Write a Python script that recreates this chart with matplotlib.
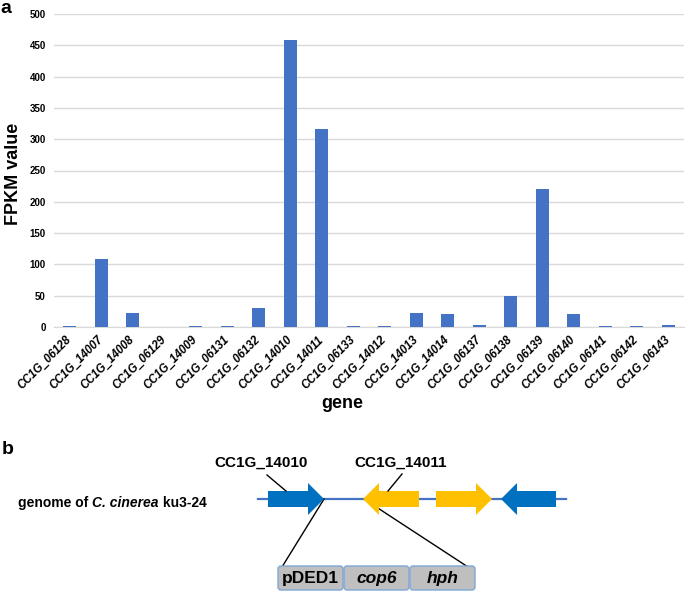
import matplotlib.pyplot as plt
from matplotlib.patches import Polygon, FancyBboxPatch

# data
genes = ['CC1G_06128', 'CC1G_14007', 'CC1G_14008', 'CC1G_06129', 'CC1G_14009',
         'CC1G_06131', 'CC1G_06132', 'CC1G_14010', 'CC1G_14011', 'CC1G_06133',
         'CC1G_14012', 'CC1G_14013', 'CC1G_14014', 'CC1G_06137', 'CC1G_06138',
         'CC1G_06139', 'CC1G_06140', 'CC1G_06141', 'CC1G_06142', 'CC1G_06143']
fpkm = [2, 108, 23, 0, 2, 2, 30, 458, 316, 2, 2, 23, 21, 3.5, 50, 221, 21, 2, 2, 3.5]
yticks = list(range(0, 501, 50))

# panel b: gene arrows (start, end, colour) along the genome line
gene_arrows = [(268, 324, '#0070C0'), (419, 363, '#FFC000'),
               (436, 492, '#FFC000'), (556, 501, '#0070C0')]
cassette = ['pDED1', 'cop6', 'hph']
cassette_italic = [False, True, True]

W, H = 685, 592
fig = plt.figure(figsize=(W / 100, H / 100), dpi=100)
plt.rcParams['font.family'] = ['Liberation Sans', 'DejaVu Sans']

# ---- panel a ----
ax = fig.add_axes([54 / W, 1 - 327 / H, 630 / W, 313 / H])
x_pos = list(range(len(genes)))
ax.bar(x_pos, fpkm, width=0.42, color='#4472C4', zorder=3)
ax.set_xlim(-0.5, len(genes) - 0.5)
ax.set_ylim(0, 500)
ax.set_yticks(yticks)
ax.set_yticklabels([str(v) for v in yticks], fontsize=7, fontweight='bold')
ax.set_xticks(x_pos)
ax.set_xticklabels(genes, rotation=45, ha='right', va='center', rotation_mode='anchor',
                   fontsize=8.3, fontweight='bold', fontstyle='italic')
ax.tick_params(length=0, pad=6)
ax.tick_params(axis='x', pad=8)
ax.grid(axis='y', color='#D9D9D9', linewidth=1, zorder=0)
for s in ['top', 'right', 'left']:
    ax.spines[s].set_visible(False)
ax.spines['bottom'].set_color('#D9D9D9')

fig.text(14 / W, 1 - 174 / H, 'FPKM value', rotation=90, ha='center', va='center',
         fontsize=13, fontweight='bold')
fig.text(342 / W, 1 - 404 / H, 'gene', ha='center', va='center',
         fontsize=13, fontweight='bold')

# ---- panel b (drawn in pixel coordinates) ----
bx = fig.add_axes([0, 0, 1, 1], facecolor='none')
bx.set_xlim(0, W)
bx.set_ylim(H, 0)
bx.axis('off')

bx.text(0, 0, 'a', fontsize=14, fontweight='bold', va='top')
bx.text(2, 449, 'b', fontsize=14, fontweight='bold', va='center')

gy = 499
bx.plot([258, 566], [gy, gy], color='#4472C4', linewidth=1.6, zorder=1)
for start, end, col in gene_arrows:
    d = 1 if end > start else -1
    hb = end - d * 16
    pts = [(start, gy - 8), (hb, gy - 8), (hb, gy - 16), (end, gy),
           (hb, gy + 16), (hb, gy + 8), (start, gy + 8)]
    bx.add_patch(Polygon(pts, closed=True, facecolor=col, edgecolor='none', zorder=2))

bx.text(261, 463, 'CC1G_14010', ha='center', va='center', fontsize=11,
        fontweight='bold')
bx.text(401, 463, 'CC1G_14011', ha='center', va='center', fontsize=11,
        fontweight='bold')
bx.plot([267, 286], [475, 491], color='black', linewidth=1, zorder=3)
bx.plot([402, 388], [474, 491], color='black', linewidth=1, zorder=3)

# genome label with italic species name
t = bx.text(18, 503, 'genome of ', ha='left', va='center', fontsize=10,
            fontweight='bold')
fig.canvas.draw()
r = fig.canvas.get_renderer()
inv = bx.transData.inverted()
x1 = inv.transform((t.get_window_extent(r).x1, 0))[0]
t2 = bx.text(x1, 503, 'C. cinerea', ha='left', va='center', fontsize=10,
             fontweight='bold', fontstyle='italic')
x2 = inv.transform((t2.get_window_extent(r).x1, 0))[0]
bx.text(x2, 503, ' ku3-24', ha='left', va='center', fontsize=10,
        fontweight='bold')

bx.plot([324, 282], [gy, 567], color='black', linewidth=1, zorder=1)
bx.plot([364, 468], [gy, 567], color='black', linewidth=1, zorder=1)

box_left = 278
box_w = 65
for i, name in enumerate(cassette):
    x0 = box_left + i * (box_w + 1)
    bx.add_patch(FancyBboxPatch((x0, 566), box_w, 24,
                                boxstyle='round,pad=0,rounding_size=3',
                                facecolor='#BFBFBF', edgecolor='#7FA7D6',
                                linewidth=1, zorder=4))
    bx.text(x0 + box_w / 2, 578, name, ha='center', va='center', fontsize=12.5,
            fontweight='bold', fontstyle='italic' if cassette_italic[i] else 'normal',
            zorder=5)

fig.savefig('out.png', dpi=100)
